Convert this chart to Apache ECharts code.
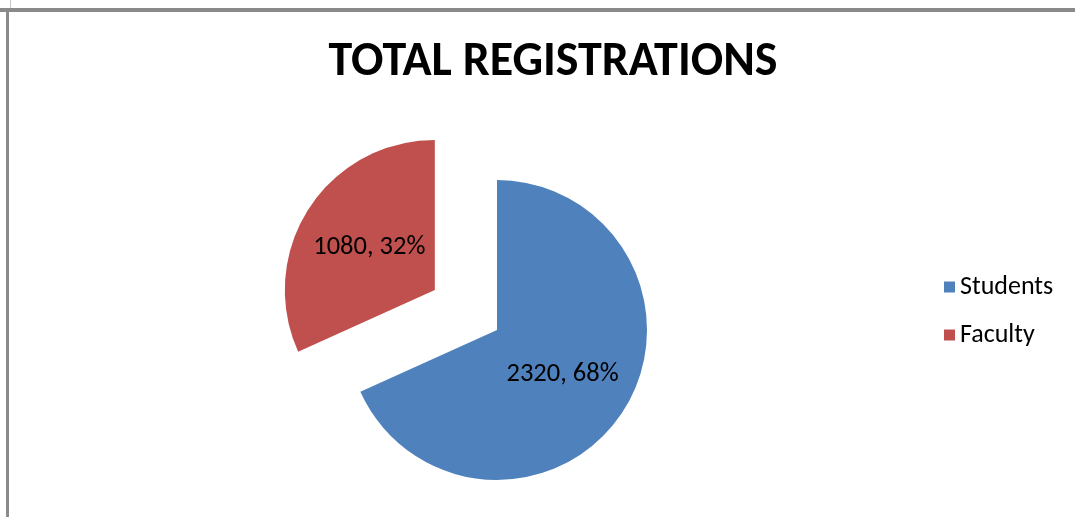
<!DOCTYPE html>
<html lang="en" style="height: 100%">
<head>
  <meta charset="utf-8">
</head>
<body style="height: 100%; margin: 0; background-color: #fff">
  <div id="container" style="width: 1075px; height: 517px"></div>
  <script type="text/javascript" src="https://cdn.jsdelivr.net/npm/echarts@6.0.0/dist/echarts.min.js"></script>
  <script type="text/javascript">
    var categories = ['Students', 'Faculty'];
    var values = [2320, 1080];
    var percents = [68, 32];
    var colors = ['#4F81BD', '#C0504D'];

    var chart = echarts.init(document.getElementById('container'), null, { renderer: 'canvas' });

    var pieData = categories.map(function (name, i) {
      return {
        name: name,
        value: values[i],
        pct: percents[i],
        selected: name === 'Faculty',
        itemStyle: { color: colors[i] }
      };
    });

    var font = 'Carlito, Lato';

    var option = {
      animation: false,
      title: {
        text: 'TOTAL REGISTRATIONS',
        left: 548,
        top: 34,
        textAlign: 'center',
        textStyle: {
          fontFamily: font,
          fontWeight: 'bold',
          fontSize: 48,
          color: '#000'
        }
      },
      legend: {
        orient: 'vertical',
        left: 939,
        top: 269,
        itemWidth: 11,
        itemHeight: 11,
        itemGap: 22,
        icon: 'rect',
        data: categories,
        textStyle: { fontFamily: font, fontSize: 26, lineHeight: 26, color: '#000', padding: [0, 0, 0, 0] }
      },
      graphic: [
        { type: 'rect', shape: { x: 0, y: 8, width: 1075, height: 4 }, style: { fill: '#8a8a8a' } },
        { type: 'rect', shape: { x: 6, y: 10, width: 3, height: 507 }, style: { fill: '#8a8a8a' } },
        { type: 'rect', shape: { x: 10, y: 0, width: 1, height: 8 }, style: { fill: '#c8c8c8' } }
      ],
      series: [{
        type: 'pie',
        center: [497, 330],
        radius: 150,
        startAngle: 90,
        clockwise: true,
        selectedMode: 'single',
        selectedOffset: 74,
        avoidLabelOverlap: false,
        itemStyle: { borderWidth: 0 },
        emphasis: { disabled: true },
        label: {
          position: 'inside',
          fontFamily: font,
          fontSize: 26.5,
          color: '#000',
          offset: [0, 2],
          formatter: function (p) { return p.value + ', ' + p.data.pct + '%'; }
        },
        labelLine: { show: false },
        data: pieData
      }]
    };

    chart.setOption(option);
  </script>
</body>
</html>
